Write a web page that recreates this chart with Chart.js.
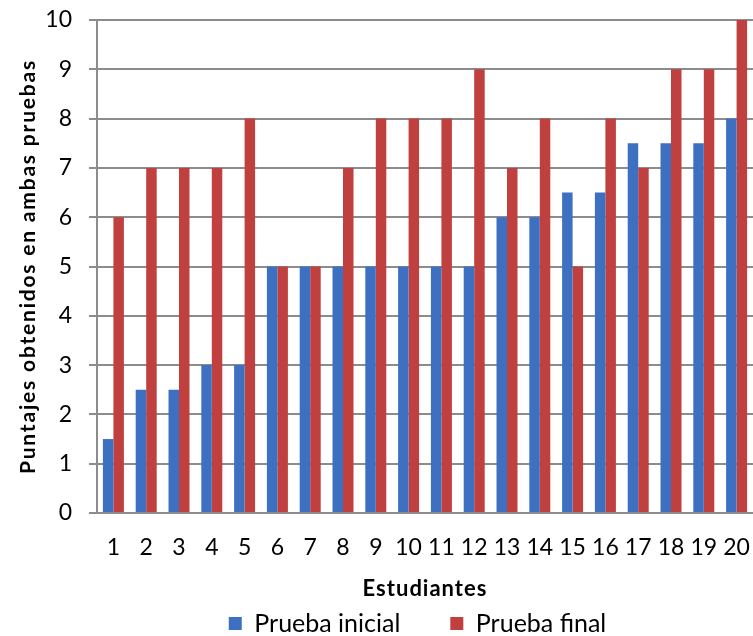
<!DOCTYPE html>
<html>
<head>
<meta charset="utf-8">
<script src="https://cdn.jsdelivr.net/npm/chart.js@4/dist/chart.umd.min.js"></script>
<style>
  html, body { margin: 0; padding: 0; background: #fff; overflow: hidden; }
  #wrap { width: 753px; height: 636px; }
</style>
</head>
<body>
<div id="wrap"><canvas id="chart"></canvas></div>
<script>
// datos
const estudiantes = ['1','2','3','4','5','6','7','8','9','10','11','12','13','14','15','16','17','18','19','20'];
const pruebaInicial = [1.5, 2.5, 2.5, 3, 3, 5, 5, 5, 5, 5, 5, 5, 6, 6, 6.5, 6.5, 7.5, 7.5, 7.5, 8];
const pruebaFinal = [6, 7, 7, 7, 8, 5, 5, 7, 8, 8, 8, 9, 7, 8, 5, 8, 7, 9, 9, 10];
const yTicks = [0, 1, 2, 3, 4, 5, 6, 7, 8, 9, 10];

const FONT = 'Lato, "Open Sans", sans-serif';
const gridGray = '#8c8c8c';
const LEGEND_PAD = 50;

// títulos de eje con un poco de espaciado entre letras
const spacedTitle = (scale, spacing) => {
  if (scale._spaced) return;
  scale._spaced = true;
  const orig = scale.drawTitle;
  scale.drawTitle = function () {
    const ctx = this.ctx;
    ctx.save();
    ctx.letterSpacing = spacing;
    orig.call(this);
    ctx.restore();
  };
};

// colocar la leyenda como en el original (la caja se recorta, así que solo se sube el borde superior)
const legendShift = {
  id: 'legendShift',
  afterLayout(chart) {
    const lg = chart.legend;
    if (lg) {
      const dx = 41;
      lg.left += dx;
      lg.right += dx;
      lg.top -= LEGEND_PAD - 1;
    }
  }
};

new Chart(document.getElementById('chart'), {
  type: 'bar',
  data: {
    labels: estudiantes,
    datasets: [
      { label: 'Prueba inicial', data: pruebaInicial, backgroundColor: '#3d70c1' },
      { label: 'Prueba final', data: pruebaFinal, backgroundColor: '#c0403f' }
    ]
  },
  options: {
    responsive: true,
    maintainAspectRatio: false,
    animation: false,
    layout: { padding: { top: 20, right: 0, bottom: 0, left: 0 } },
    datasets: {
      bar: { categoryPercentage: 0.64, barPercentage: 1.0 }
    },
    plugins: {
      tooltip: { enabled: false },
      legend: {
        position: 'bottom',
        maxHeight: 26,
        labels: {
          color: '#000',
          font: { family: FONT, size: 25 },
          boxWidth: 13,
          boxHeight: 13,
          padding: LEGEND_PAD
        }
      }
    },
    scales: {
      x: {
        grid: { display: false, drawTicks: false },
        border: { display: false },
        ticks: {
          color: '#000',
          font: { family: FONT, size: 23 },
          padding: 21,
          maxRotation: 0,
          autoSkip: false
        },
        title: {
          display: true,
          text: 'Estudiantes',
          color: '#000',
          font: { family: FONT, size: 22, weight: 'bold' },
          padding: { top: 0, bottom: 8 }
        },
        afterFit(scale) {
          scale.height = 97;
          scale.paddingLeft = 0;
          scale.paddingRight = 0;
          spacedTitle(scale, '1px');
        }
      },
      y: {
        min: 0,
        max: 10,
        afterBuildTicks(scale) {
          scale.ticks = yTicks.map(v => ({ value: v }));
        },
        grid: { color: gridGray, lineWidth: 2, tickLength: 8 },
        border: { color: gridGray, width: 2 },
        ticks: {
          color: '#000',
          font: { family: FONT, size: 23 },
          padding: 17
        },
        title: {
          display: true,
          text: 'Puntajes obtenidos en ambas pruebas',
          color: '#000',
          font: { family: FONT, size: 21, weight: 'bold' },
          padding: { top: 16, bottom: 0 }
        },
        afterFit(scale) {
          scale.width = 97;
          scale.paddingTop = 0;
          scale.paddingBottom = 0;
          spacedTitle(scale, '1.8px');
        }
      }
    }
  },
  plugins: [legendShift]
});
</script>
</body>
</html>
